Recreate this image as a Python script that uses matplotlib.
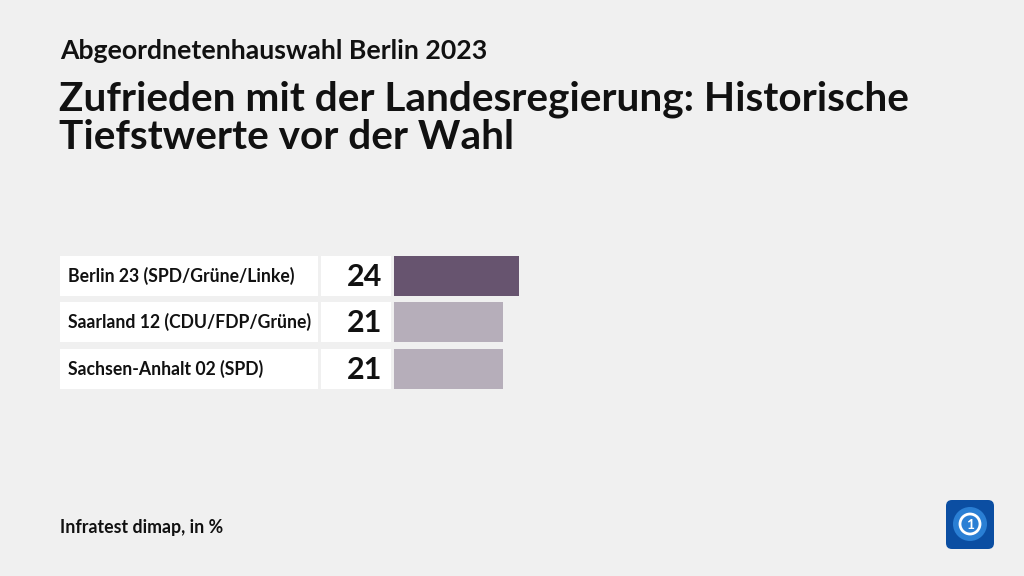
import matplotlib.pyplot as plt
from matplotlib.patches import FancyBboxPatch, Circle

plt.rcParams['font.family'] = ['Lato', 'DejaVu Sans']

# data
labels = ["Berlin 23 (SPD/Grüne/Linke)", "Saarland 12 (CDU/FDP/Grüne)", "Sachsen-Anhalt 02 (SPD)"]
values = [24, 21, 21]
colors = ["#67546f", "#b6aeba", "#b6aeba"]

supertitle = "Abgeordnetenhauswahl Berlin 2023"
title = "Zufrieden mit der Landesregierung: Historische\nTiefstwerte vor der Wahl"
source = "Infratest dimap, in %"

fig = plt.figure(figsize=(10.24, 5.76), dpi=100)
fig.patch.set_facecolor("#f0f0f0")

# one axes over the whole figure, pixel coordinates
ax = fig.add_axes([0, 0, 1, 1])
ax.set_xlim(0, 1024)
ax.set_ylim(576, 0)
ax.axis("off")

row_y = [276, 322, 369]
row_h = 40
scale = 5.2  # px per percent
bar_left = 394

# label boxes, value boxes and bars
ax.barh(row_y, [258] * 3, left=60, height=row_h, color="white")
ax.barh(row_y, [70] * 3, left=321, height=row_h, color="white")
ax.barh(row_y, [v * scale for v in values], left=bar_left, height=row_h, color=colors)

for y, lab, v in zip(row_y, labels, values):
    ax.text(68, y, lab, fontsize=12.7, fontweight="bold", va="center", ha="left", color="#111111")
    ax.text(382, y + 1, str(v), fontsize=22, fontweight="bold", va="center", ha="right", color="#111111")

ax.text(60, 51, supertitle, fontsize=19.2, fontweight="bold", va="center", color="#111111")
ax.text(59, 118, title, fontsize=29.2, fontweight="bold", va="center", color="#111111",
        linespacing=1.02)
ax.text(60, 528, source, fontsize=12.8, fontweight="bold", va="center", color="#111111")

# logo
logo = FancyBboxPatch((946, 500), 48, 49, boxstyle="round,pad=0,rounding_size=6",
                      facecolor="#0b4ea2", edgecolor="none")
ax.add_patch(logo)
ax.add_patch(Circle((970, 524), 17, facecolor="#2a7fd4", edgecolor="none"))
ax.add_patch(Circle((970, 524), 10, facecolor="none", edgecolor="white", linewidth=2))
ax.text(970, 525, "1", fontsize=10, fontweight="bold", color="white", ha="center", va="center")

fig.savefig("out.png", dpi=100, facecolor=fig.get_facecolor())
